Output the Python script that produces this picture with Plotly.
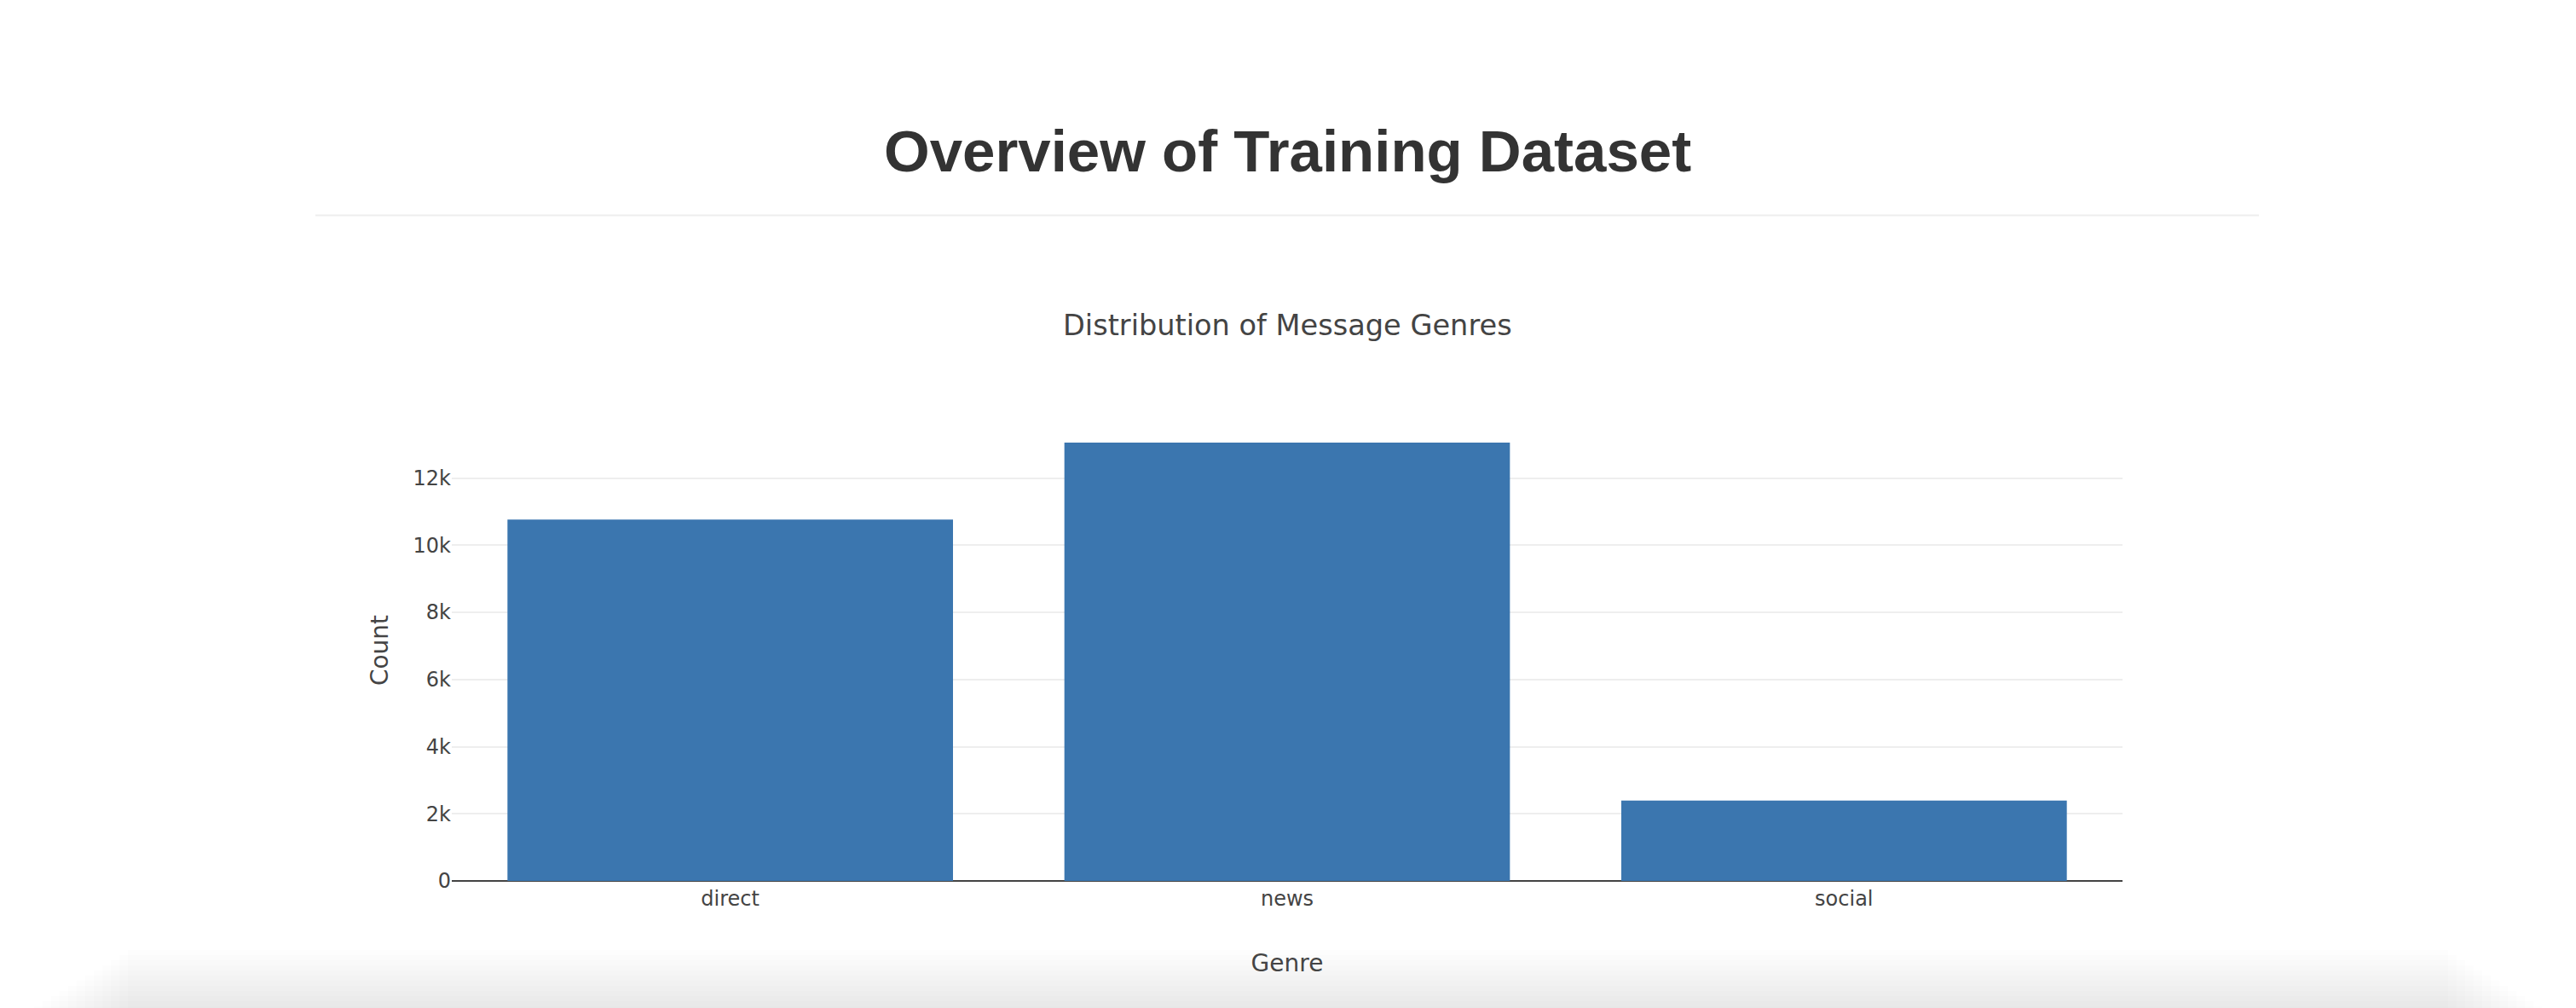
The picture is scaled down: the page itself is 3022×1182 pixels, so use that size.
import plotly.graph_objects as go

# ---- data ----
genres = ["direct", "news", "social"]
counts = [10766, 13054, 2396]

page_heading = "Overview of Training Dataset"
chart_title = "Distribution of Message Genres"
x_title = "Genre"
y_title = "Count"

# ---- geometry (pixels, page coordinates) ----
W, H = 3022, 1182
OFF = 8  # default body margin of the html page
PL, PR, PT, PB = 530, 2490, 492, 1033  # plot area in page pixels
L = PL - OFF
T = PT - OFF
R = W - (PR - OFF)
B = H - (PB - OFF)
PW = PR - PL
PH = PB - PT


def px_x(X):
    return (X - PL) / PW


def px_y(Y):
    return (PB - Y) / PH


TEXT = "#444"
FONT = "DejaVu Sans"

fig = go.Figure(
    go.Bar(
        x=genres,
        y=counts,
        marker=dict(color="#3b76af", line=dict(width=0)),
        hoverinfo="x+y",
    )
)

shapes = [
    # horizontal rule under the page heading
    dict(type="line", xref="paper", yref="paper",
         x0=px_x(370), x1=px_x(2650), y0=px_y(252.5), y1=px_y(252.5),
         line=dict(color="#eeeeee", width=2)),
]
# soft shadow at the bottom of the page
n = 12
for i in range(n):
    top = 1114 + i * 6
    inset = 150 - i * 10
    shapes.append(dict(
        type="rect", xref="paper", yref="paper", layer="below",
        x0=px_x(inset), x1=px_x(W - inset), y0=px_y(top), y1=px_y(H + 20),
        line=dict(width=0), fillcolor="rgba(0,0,0,0.0065)",
    ))

annotations = [
    dict(text=page_heading, xref="paper", yref="paper", x=0.5, y=px_y(177),
         xanchor="center", yanchor="middle", showarrow=False,
         font=dict(family="Liberation Sans, Arial, Helvetica", size=69,
                   color="#333333", weight=700)),
    dict(text=chart_title, xref="paper", yref="paper", x=0.5, y=px_y(381.5),
         xanchor="center", yanchor="middle", showarrow=False,
         font=dict(family=FONT, size=33.6, color=TEXT)),
]

fig.update_layout(
    template="none",
    width=W,
    height=H,
    margin=dict(l=L, r=R, t=T, b=B, pad=0, autoexpand=False),
    paper_bgcolor="white",
    plot_bgcolor="white",
    font=dict(family=FONT, size=24, color=TEXT),
    bargap=0.2,
    showlegend=False,
    shapes=shapes,
    annotations=annotations,
    xaxis=dict(
        title=dict(text=x_title, font=dict(size=28, color=TEXT), standoff=52),
        showgrid=False, showline=False, zeroline=False, ticks="",
        tickfont=dict(size=24, color=TEXT), ticklabelstandoff=4,
        automargin=False,
    ),
    yaxis=dict(
        title=dict(text=y_title, font=dict(size=28, color=TEXT), standoff=20),
        showgrid=True, gridcolor="#eeeeee", gridwidth=2,
        zeroline=True, zerolinecolor="#444444", zerolinewidth=2,
        showline=False, ticks="", tick0=0, dtick=2000,
        tickfont=dict(size=24, color=TEXT),
        automargin=False,
    ),
)

fig.write_html("out.html")
